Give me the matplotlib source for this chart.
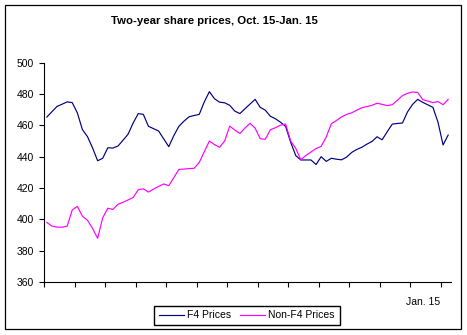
"""
plot.py — Two-year share prices, F4 vs Non-F4 (Oct. 15 - Jan. 15)
"""

import matplotlib
matplotlib.use("Agg")
import matplotlib.pyplot as plt
from matplotlib.patches import Rectangle

plt.rcParams["font.family"] = ["Liberation Sans", "DejaVu Sans"]

TITLE = "Two-year share prices, Oct. 15-Jan. 15"

# one value per trading point (80 points)
f4_prices = [
    465.3, 468.7, 472.1, 473.5, 475.0, 474.5, 468.0, 457.3, 452.8, 445.6,
    437.4, 439.0, 445.7, 445.5, 446.8, 450.5, 454.4, 461.6, 467.5, 467.0,
    459.4, 457.9, 456.4, 451.4, 446.4, 453.5, 459.4, 462.7, 465.5, 466.3,
    467.0, 475.0, 481.5, 477.0, 474.8, 474.4, 472.8, 469.1, 467.5, 470.6,
    473.6, 476.6, 471.5, 469.7, 465.8, 464.2, 462.0, 459.3, 449.2, 440.7,
    437.9, 437.9, 437.9, 435.0, 440.0, 437.0, 439.0, 438.4, 438.0, 439.7,
    442.7, 444.6, 446.0, 448.0, 449.7, 452.7, 450.8, 455.9, 460.8, 461.2,
    461.5, 468.6, 473.4, 476.6, 474.7, 473.1, 471.5, 462.0, 447.5, 453.8,
]
non_f4_prices = [
    398.0, 395.7, 395.0, 395.0, 395.6, 406.0, 408.3, 402.0, 399.4, 394.2,
    387.9, 401.0, 407.1, 406.3, 409.6, 410.9, 412.4, 414.0, 418.9, 419.5,
    417.4, 419.3, 421.0, 422.6, 421.5, 426.7, 431.9, 432.1, 432.4, 432.6,
    436.3, 443.2, 450.0, 447.7, 446.0, 450.0, 459.5, 457.0, 454.8, 458.3,
    461.3, 458.2, 451.5, 451.1, 457.2, 458.5, 460.1, 460.9, 450.0, 445.3,
    438.0, 440.8, 443.0, 445.2, 446.6, 452.6, 461.0, 463.1, 465.3, 467.0,
    468.0, 469.7, 471.2, 472.0, 472.8, 474.1, 473.4, 472.6, 473.2, 476.0,
    479.0, 480.5, 481.3, 481.0, 476.4, 475.5, 474.5, 475.2, 473.2, 476.6,
]
series_labels = ["F4 Prices", "Non-F4 Prices"]
series_colors = ["#000080", "#FF00FF"]

y_ticks = [360, 380, 400, 420, 440, 460, 480, 500]
x_label_index = 74
x_label_text = "Jan. 15"
TICK_EVERY = 6

W, H = 467, 335


def main():
    fig = plt.figure(figsize=(W / 100, H / 100), dpi=100)
    fig.patch.set_facecolor("white")

    # outer chart border
    fig.patches.append(Rectangle((5 / W, 1 - 329 / H), 456 / W, 324 / H,
                                 transform=fig.transFigure, fill=False,
                                 edgecolor="black", lw=0.9))

    ax = fig.add_axes([44.3 / W, 1 - 282 / H, 406.4 / W, 219.3 / H])
    n = len(f4_prices)
    xs = list(range(n))

    lines = []
    for vals, lab, col in zip([f4_prices, non_f4_prices], series_labels, series_colors):
        ln, = ax.plot(xs, vals, color=col, lw=0.85, label=lab)
        lines.append(ln)

    ax.set_xlim(-0.5, n - 0.5)
    ax.set_ylim(y_ticks[0], y_ticks[-1])
    ax.set_yticks(y_ticks)

    ax.set_xticks([i - 0.5 for i in range(0, n, TICK_EVERY)])
    ax.set_xticklabels([])
    ax.set_xticks([x_label_index], minor=True)
    ax.set_xticklabels([x_label_text], minor=True)

    for s in ("top", "right"):
        ax.spines[s].set_visible(False)
    for s in ("left", "bottom"):
        ax.spines[s].set_linewidth(0.8)

    ax.tick_params(axis="both", which="major", direction="out", length=3.5,
                   width=0.8, labelsize=7.5, pad=4)
    ax.tick_params(axis="x", which="minor", length=0, labelsize=7.5, pad=11)

    fig.text(214 / W, 1 - 21 / H, TITLE, ha="center", va="center",
             fontsize=8.2, fontweight="bold")

    fig.legend(handles=lines, loc="lower left",
               bbox_to_anchor=(154 / W, 1 - 325 / H), ncol=2, fontsize=7.5,
               frameon=True, fancybox=False, edgecolor="black", framealpha=1,
               handlelength=2.4, handletextpad=0.3, columnspacing=0.9,
               borderpad=0.45, borderaxespad=0)

    fig.savefig("out.png", dpi=100)
    plt.close(fig)


if __name__ == "__main__":
    main()
